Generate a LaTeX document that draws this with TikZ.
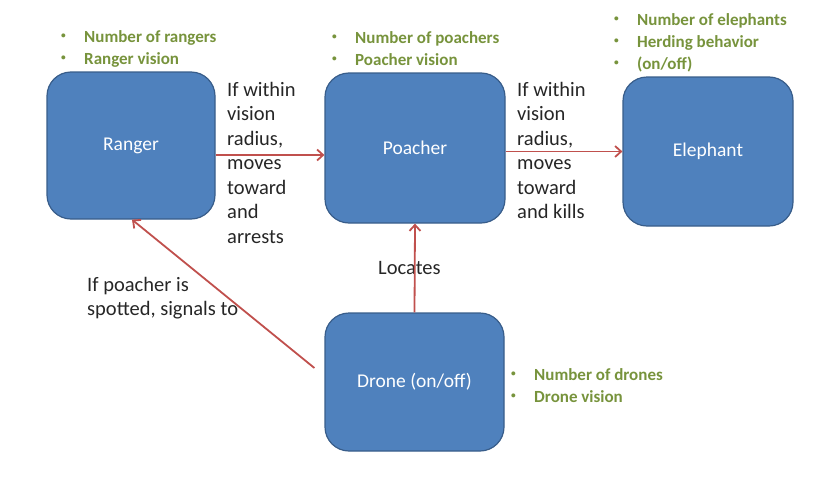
\documentclass[tikz,border=0pt]{standalone}
\usepackage{fontspec}
\setmainfont{Carlito}
\usetikzlibrary{arrows.meta}
\definecolor{boxfill}{HTML}{4F81BD}
\definecolor{boxline}{HTML}{385D8A}
\definecolor{arrred}{HTML}{C0504D}
\definecolor{olive}{HTML}{77933C}
\tikzset{
  agent/.style={draw=boxline, line width=1.2pt, fill=boxfill, rounded corners=24pt,
    text=white, font=\fontsize{19.5}{23}\selectfont, inner sep=0pt},
  arr/.style={draw=arrred, line width=1.8pt, -{Straight Barb[length=6pt,width=11pt]}},
  lbl/.style={anchor=north west, align=left, inner sep=0pt, font=\fontsize{20.5}{24.5}\selectfont, text=black!85},
  props/.style={anchor=north west, align=left, inner sep=0pt, text=olive, font=\bfseries\fontsize{17}{22}\selectfont},
}
\newcommand{\bul}{\makebox[23pt][l]{\raisebox{0.22em}{\scalebox{0.55}{\textbullet}}}}
\begin{document}
\begin{tikzpicture}[x=1pt,y=-1pt]
\useasboundingbox (0,0) rectangle (818,479);
\node[agent, minimum width=168pt, minimum height=147pt] (ranger) at (131,145.5) {Ranger};
\node[agent, minimum width=180pt, minimum height=150pt] (poacher) at (415,148) {Poacher};
\node[agent, minimum width=170pt, minimum height=149pt] (elephant) at (708,151.5) {Elephant};
\node[agent, minimum width=179pt, minimum height=138pt] (drone) at (414.5,382) {Drone (on/off)};

\node[props] (rprops) at (61,30) {\bul Number of rangers\\ \bul Ranger vision};
\node[props] (pprops) at (332,31) {\bul Number of poachers\\ \bul Poacher vision};
\node[props] (eprops) at (614,13) {\bul Number of elephants\\ \bul Herding behavior\\ \bul (on/off)};
\node[props] (dprops) at (511,368) {\bul Number of drones\\ \bul Drone vision};

\node[lbl] (l1) at (227,82) {If within\\vision\\radius,\\moves\\toward\\and\\arrests};
\node[lbl] (l2) at (517,82) {If within\\vision\\radius,\\moves\\toward\\and kills};
\node[lbl] (l3) at (378,261) {Locates};
\node[lbl] (l4) at (87,277) {If poacher is\\spotted, signals to};

\coordinate (dstart) at ([xshift=-10pt,yshift=14pt]drone.west);
\draw[arr] ([yshift=-9.5pt]ranger.east) -- ([yshift=-7pt]poacher.west);
\draw[arr] ([yshift=-3.5pt]poacher.east) -- (elephant.west);
\draw[arr] (drone.north) -- (poacher.south);
\draw[arr] (dstart) -- ([xshift=1pt]ranger.south);
\end{tikzpicture}
\end{document}
